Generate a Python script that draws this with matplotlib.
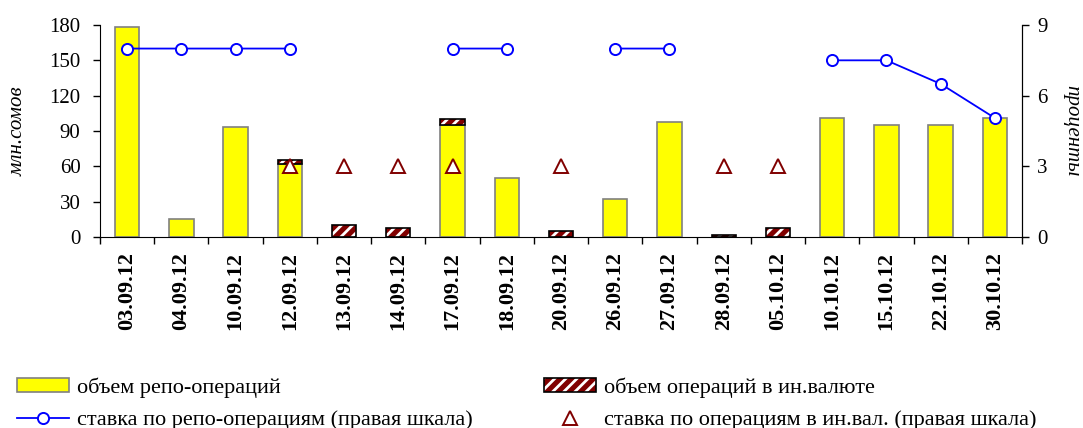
import matplotlib.pyplot as plt
from matplotlib.patches import Rectangle
from matplotlib.lines import Line2D
from matplotlib.legend_handler import HandlerTuple
import numpy as np

plt.rcParams['font.family'] = ['Liberation Serif', 'DejaVu Serif']
plt.rcParams['hatch.linewidth'] = 2.0

dates = ['03.09.12', '04.09.12', '10.09.12', '12.09.12', '13.09.12', '14.09.12',
         '17.09.12', '18.09.12', '20.09.12', '26.09.12', '27.09.12', '28.09.12',
         '05.10.12', '10.10.12', '15.10.12', '22.10.12', '30.10.12']
repo_vol = [178, 15, 93, 62, 0, 0, 95, 50, 0, 32, 98, 0, 0, 101, 95, 95, 101]
fx_vol = [0, 0, 0, 3, 10, 8, 5, 0, 5, 0, 0, 2, 8, 0, 0, 0, 0]
repo_rate = [8, 8, 8, 8, np.nan, np.nan, 8, 8, np.nan, 8, 8, np.nan, np.nan,
             7.5, 7.5, 6.5, 5.05]
fx_rate = [np.nan, np.nan, np.nan, 3, 3, 3, 3, np.nan, 3, np.nan, np.nan, 3, 3,
           np.nan, np.nan, np.nan, np.nan]

yellow = '#FFFF00'
darkred = '#800000'
blue = '#0000FF'

fig = plt.figure(figsize=(10.83, 4.28), dpi=100)
ax = fig.add_axes([100 / 1083, 1 - 237 / 428, 922 / 1083, 212 / 428])
ax2 = ax.twinx()

x = np.arange(len(dates))
w = 0.45
repo = np.array(repo_vol, dtype=float)
fx = np.array(fx_vol, dtype=float)

ax.bar(x, repo, w, color=yellow, edgecolor='#808080', linewidth=1.2, zorder=2)
mask = fx > 0
ax.bar(x[mask], fx[mask], w, bottom=repo[mask], color=darkred, edgecolor='white',
       hatch='///', linewidth=0, zorder=2)
ax.bar(x[mask], fx[mask], w, bottom=repo[mask], fill=False, edgecolor='black',
       linewidth=1.2, zorder=3)

ax2.plot(x, repo_rate, color=blue, lw=1.3, marker='o', ms=8, mfc='white',
         mec=blue, mew=1.4, zorder=4)
ax2.plot(x, fx_rate, ls='none', marker='^', ms=10, mfc='white', mec=darkred,
         mew=1.4, zorder=4)

ax.set_xlim(-0.5, len(dates) - 0.5)
ax.set_ylim(0, 180)
ax2.set_ylim(0, 9)
ax.set_yticks(range(0, 181, 30))
ax2.set_yticks(range(0, 10, 3))

ax.set_xticks(x)
ax.set_xticklabels(dates, rotation=90, fontweight='bold', fontsize=16)
ax.set_xticks(np.arange(-0.5, len(dates), 1), minor=True)
ax.tick_params(axis='x', which='major', length=0, pad=11)
ax.tick_params(axis='x', which='minor', length=5, direction='out', width=1)
ax.tick_params(axis='y', labelsize=15, length=5, width=1, pad=9)
ax2.tick_params(axis='y', labelsize=15, length=5, width=1, pad=6)

for a in (ax, ax2):
    a.spines['top'].set_visible(False)
ax2.spines['left'].set_visible(False)
ax2.spines['bottom'].set_visible(False)

ax.set_ylabel('млн.сомов', fontstyle='italic', fontsize=15, va='center')
ax.yaxis.set_label_coords(-82 / 922, 0.5)
ax2.set_ylabel('проценты', fontstyle='italic', fontsize=15, rotation=-90,
               va='center')
ax2.yaxis.set_label_coords(1 + 50 / 922, 0.5)

h_repo = Rectangle((0, 0), 1, 1, facecolor=yellow, edgecolor='#808080', lw=1.2)
h_fx_fill = Rectangle((0, 0), 1, 1, facecolor=darkred, edgecolor='white',
                      hatch='///', lw=0)
h_fx_edge = Rectangle((0, 0), 1, 1, fill=False, edgecolor='black', lw=1.2)
h_rate = Line2D([], [], color=blue, lw=1.3, marker='o', ms=8, mfc='white',
                mec=blue, mew=1.4)
h_fxrate = Line2D([], [], ls='none', marker='^', ms=10, mfc='white',
                  mec=darkred, mew=1.4)

kw = dict(frameon=False, fontsize=16, handlelength=2.35, handleheight=0.6,
          handletextpad=0.35, labelspacing=0.55, borderaxespad=0, borderpad=0,
          loc='lower left')
leg1 = fig.legend([h_repo, h_rate],
                  ['объем репо-операций', 'ставка по репо-операциям (правая шкала)'],
                  bbox_to_anchor=(17 / 1083, -2 / 428), **kw)
leg2 = fig.legend([(h_fx_fill, h_fx_edge), h_fxrate],
                  ['объем операций в ин.валюте', 'ставка по операциям в ин.вал. (правая шкала)'],
                  bbox_to_anchor=(544 / 1083, -2 / 428),
                  handler_map={tuple: HandlerTuple(ndivide=1, pad=0)}, **kw)

fig.savefig('out.png', dpi=100)
